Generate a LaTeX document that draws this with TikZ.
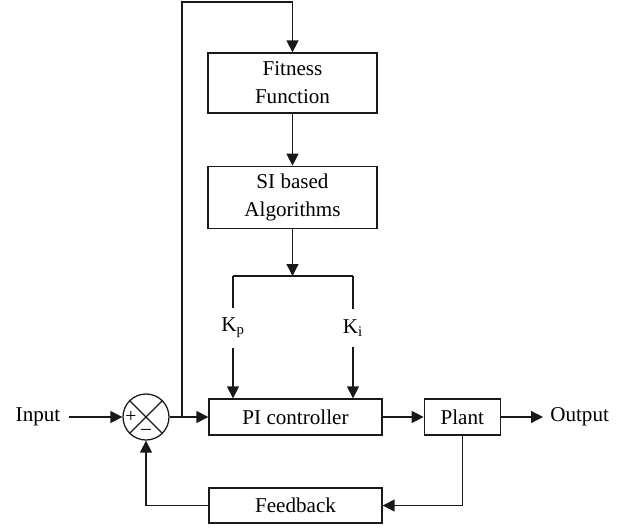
\documentclass[tikz,border=0pt]{standalone}
\usepackage{fontspec}
\setmainfont{Liberation Serif}
\usetikzlibrary{positioning,arrows.meta}

\begin{document}
\begin{tikzpicture}[
        x=0.025cm, y=-0.025cm,
        block/.style = {rectangle, draw=black!90, line width=0.9pt, align=center, inner sep=2pt, font=\fontsize{15}{20}\selectfont},
        sumnode/.style = {circle, draw=black!90, line width=0.9pt, minimum size=1.15cm, inner sep=0pt},
        signal/.style = {font=\fontsize{15}{18}\selectfont},
        gain/.style = {font=\fontsize{15}{18}\selectfont, inner sep=7pt},
        wire/.style = {draw=black!90, line width=0.9pt},
        arr/.style = {wire, -{Triangle[length=8.5pt,width=8.5pt]}}
    ]
    \useasboundingbox (0,0) rectangle (631,527);

    \node[block, minimum width=4.225cm, minimum height=1.5cm] (fitness) at (292.5,83) {Fitness\\Function};
    \node[block, minimum width=4.225cm, minimum height=1.55cm] (si) [below=1.3cm of fitness] {SI based\\Algorithms};
    \node[block, minimum width=4.325cm, minimum height=0.9cm] (pi) at (295.5,417) {PI controller};
    \node[block, minimum width=1.9cm, minimum height=0.9cm] (plant) [right=1.025cm of pi] {Plant};
    \node[block, minimum width=4.325cm, minimum height=0.875cm] (feedback) at (295.5,505.5) {Feedback};
    \node[sumnode] (sum) at (146,417) {};
    \draw[wire] (sum.north west) -- (sum.south east) (sum.north east) -- (sum.south west);
    \node[font=\fontsize{14}{14}\selectfont, inner sep=0pt] (plus) at (131,417) {+};
    \node[font=\fontsize{14}{14}\selectfont, inner sep=0pt] (minus) at (146,432) {\textendash};

    \node[signal, inner sep=6pt] (input) at (38,417) {Input};
    \node[signal, inner sep=5pt, anchor=west] (output) at (543,417) {Output};

    \coordinate (branch) at (182,417);
    \coordinate (loop) at (182,2);
    \coordinate (split) at (si.south |- 0,276);
    \coordinate (splitl) at (233,276);
    \coordinate (splitr) at (353,276);
    \node[gain] (kp) at (233,328) {K\textsubscript{p}};
    \node[gain] (ki) at (353,328) {K\textsubscript{i}};

    % forward path
    \draw[arr] (input) -- (sum);
    \draw[arr] (sum) -- (pi);
    \draw[arr] (pi) -- (plant);
    \draw[arr] (plant) -- (output);

    % tuning loop
    \draw[arr] (branch) -- (loop) -| (fitness.north);
    \draw[arr] (fitness) -- (si);
    \draw[arr] (si) -- (split);
    \draw[wire] (splitl) -- (splitr);
    \draw[arr] (splitl) -- (kp) -- (kp |- pi.north);
    \draw[arr] (splitr) -- (ki) -- (ki |- pi.north);

    % feedback
    \draw[arr] (plant.south) |- (feedback.east);
    \draw[arr] (feedback.west) -| (sum.south);
\end{tikzpicture}
\end{document}
